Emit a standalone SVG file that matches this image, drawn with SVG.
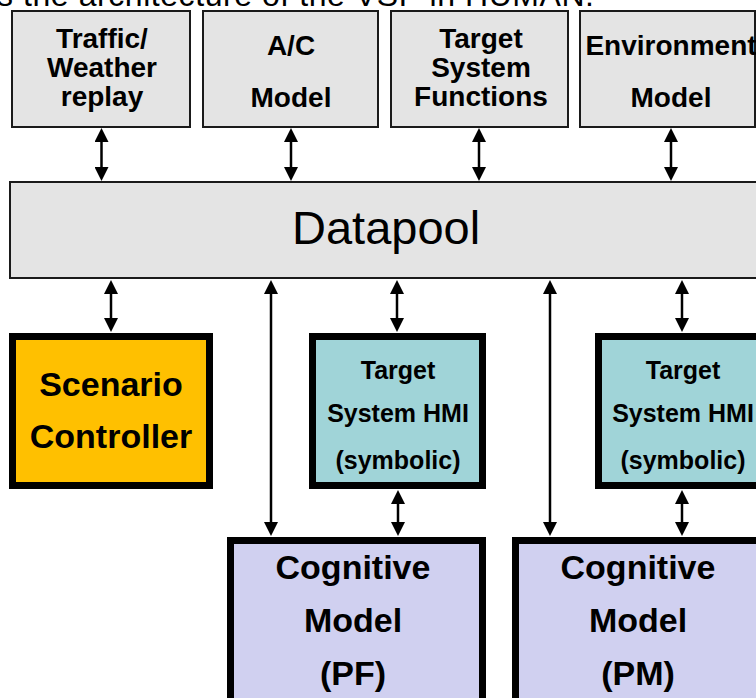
<svg xmlns="http://www.w3.org/2000/svg" width="756" height="698" viewBox="0 0 756 698">
<defs>
<marker id="ah" markerUnits="userSpaceOnUse" viewBox="0 0 14 14" markerWidth="14" markerHeight="14" refX="10" refY="7" orient="auto-start-reverse">
<path d="M0,0 L14,7 L0,14 z" fill="#000"/>
</marker>
<style>
.top{fill:#e4e4e4;stroke:#1a1a1a;stroke-width:2}
.t27{font-family:"Liberation Sans",Arial,sans-serif;font-weight:bold;font-size:28px;fill:#000;text-anchor:middle}
.t25{font-family:"Liberation Sans",Arial,sans-serif;font-weight:bold;font-size:25px;fill:#000;text-anchor:middle}
.t34{font-family:"Liberation Sans",Arial,sans-serif;font-weight:bold;font-size:34px;fill:#000;text-anchor:middle}
.thick{stroke:#000;stroke-width:7}
.sc{fill:#ffc000}
.hmi{fill:#a0d4d8}
.cog{fill:#d0d0f0}
.conn line{stroke:#000;stroke-width:2.5;marker-start:url(#ah);marker-end:url(#ah)}
</style>
</defs>
<rect width="756" height="698" fill="#fff"/>
<text x="-3" y="6" font-family="'Liberation Sans',Arial,sans-serif" font-size="32" textLength="597" fill="#000">s the architecture of the VSP in HUMAN.</text>

<g id="traffic">
<rect class="top" x="12" y="11" width="178" height="116"/>
<text class="t27" x="102" y="48">Traffic/</text>
<text class="t27" x="102" y="77">Weather</text>
<text class="t27" x="102" y="106">replay</text>
</g>
<g id="acmodel">
<rect class="top" x="203" y="11" width="175" height="116"/>
<text class="t27" x="291" y="55">A/C</text>
<text class="t27" x="291" y="107">Model</text>
</g>
<g id="tsf">
<rect class="top" x="391" y="11" width="177" height="116"/>
<text class="t27" x="481" y="48">Target</text>
<text class="t27" x="481" y="77">System</text>
<text class="t27" x="481" y="106">Functions</text>
</g>
<g id="envmodel">
<rect class="top" x="580" y="11" width="175" height="116"/>
<text class="t27" x="671" y="55">Environment</text>
<text class="t27" x="671" y="107">Model</text>
</g>
<g id="datapool">
<rect class="top" x="10" y="182" width="760" height="96"/>
<text x="292" y="244" font-family="'Liberation Sans',Arial,sans-serif" font-size="47" fill="#000">Datapool</text>
</g>
<g id="scenario">
<rect class="thick sc" x="12.5" y="336.5" width="197" height="149"/>
<text class="t34" x="111" y="396">Scenario</text>
<text class="t34" x="111" y="448">Controller</text>
</g>
<g id="hmi1">
<rect class="thick hmi" x="312.5" y="336.5" width="170" height="149"/>
<text class="t25" x="398" y="379">Target</text>
<text class="t25" x="398" y="422">System HMI</text>
<text class="t25" x="398" y="469">(symbolic)</text>
</g>
<g id="hmi2">
<rect class="thick hmi" x="598.5" y="336.5" width="170" height="149"/>
<text class="t25" x="683" y="379">Target</text>
<text class="t25" x="683" y="422">System HMI</text>
<text class="t25" x="683" y="469">(symbolic)</text>
</g>
<g id="cogpf">
<rect class="thick cog" x="230.5" y="540.5" width="252" height="200"/>
<text class="t34" x="353" y="579">Cognitive</text>
<text class="t34" x="353" y="632">Model</text>
<text class="t34" x="353" y="685">(PF)</text>
</g>
<g id="cogpm">
<rect class="thick cog" x="515.5" y="540.5" width="252" height="200"/>
<text class="t34" x="638" y="579">Cognitive</text>
<text class="t34" x="638" y="632">Model</text>
<text class="t34" x="638" y="685">(PM)</text>
</g>

<g id="connectors" class="conn">
<line x1="101.5" y1="132" x2="101.5" y2="177"/>
<line x1="291" y1="132" x2="291" y2="177"/>
<line x1="479" y1="132" x2="479" y2="177"/>
<line x1="671" y1="132" x2="671" y2="177"/>
<line x1="111" y1="284" x2="111" y2="328"/>
<line x1="271" y1="284" x2="271" y2="532"/>
<line x1="397" y1="284" x2="397" y2="328"/>
<line x1="550" y1="284" x2="550" y2="532"/>
<line x1="682" y1="284" x2="682" y2="328"/>
<line x1="398" y1="494" x2="398" y2="532"/>
<line x1="682" y1="494" x2="682" y2="532"/>
</g>
</svg>
